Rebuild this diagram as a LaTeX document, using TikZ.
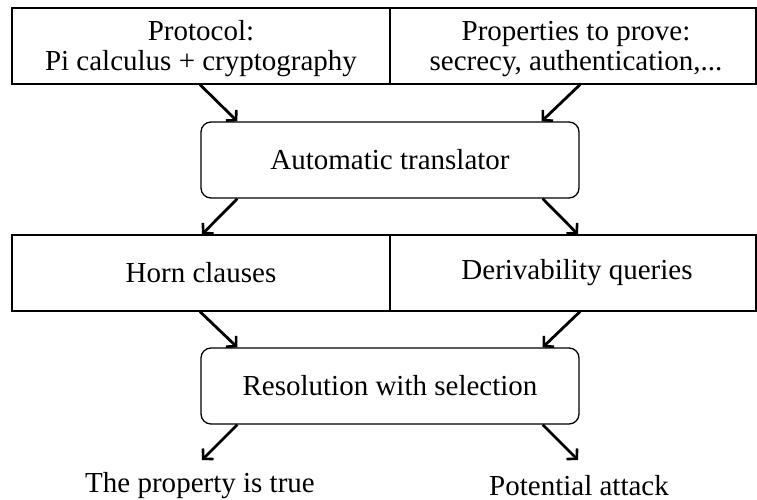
\documentclass[tikz,border=0pt]{standalone}
\usepackage{fontspec}
\setmainfont{Liberation Serif}
\usetikzlibrary{arrows.meta,calc}
\begin{document}
\begin{tikzpicture}[x=1pt,y=-1pt,
  box/.style={draw,line width=1.3pt,minimum height=76pt,inner sep=0pt},
  rbox/.style={box,rounded corners=10pt,minimum width=378pt},
  txt/.style={inner sep=0pt,font=\fontsize{29}{30}\selectfont},
  arr/.style={line width=2.8pt,-{Straight Barb[length=7pt,width=15pt,line width=2.6pt]}}]
\useasboundingbox (0,0) rectangle (757,500);
% top row
\node[box,minimum width=378pt] (protobox) at (201,46) {};
\node[box,minimum width=366pt] (propbox) at (573,46) {};
\node[txt,anchor=base] (proto1) at (201,41) {Protocol:};
\node[txt,anchor=base] (proto2) at (201,71) {Pi calculus + cryptography};
\node[txt,anchor=base] (prop1) at (576,41) {Properties to prove:};
\node[txt,anchor=base] (prop2) at (576,71) {secrecy, authentication,...};
% translator
\node[rbox] (trans) at (390,160) {};
\node[txt] (transtxt) at (390,160) {Automatic translator};
% middle row
\node[box,minimum width=378pt] (hornbox) at (201,273) {};
\node[box,minimum width=366pt] (querybox) at (573,273) {};
\node[txt] (horntxt) at (201,273) {Horn clauses};
\node[txt] (querytxt) at (577,273) {Derivability queries};
% resolution
\node[rbox] (resol) at (390,386) {};
\node[txt] (resoltxt) at (390,386) {Resolution with selection};
% outputs
\node[txt,anchor=base] (truelbl) at (200,492) {The property is true};
\node[txt,anchor=base] (attacklbl) at (579,495) {Potential attack};
\coordinate (trueend) at (202,460);
\coordinate (attackend) at (578,460);
% arrows
\draw[arr] ($(protobox.south)+(-1,0)$) -- ($(trans.north west)+(37,0)$);
\draw[arr] ($(propbox.south)+(7,0)$) -- ($(trans.north east)+(-38,0)$);
\draw[arr] ($(trans.south west)+(37,0)$) -- ($(hornbox.north)+(1,0)$);
\draw[arr] ($(trans.south east)+(-37,0)$) -- ($(querybox.north)+(5,0)$);
\draw[arr] ($(hornbox.south)+(-1,0)$) -- ($(resol.north west)+(37,0)$);
\draw[arr] ($(querybox.south)+(7,0)$) -- ($(resol.north east)+(-37,0)$);
\draw[arr] ($(resol.south west)+(37,0)$) -- (trueend);
\draw[arr] ($(resol.south east)+(-37,0)$) -- (attackend);
\end{tikzpicture}
\end{document}
